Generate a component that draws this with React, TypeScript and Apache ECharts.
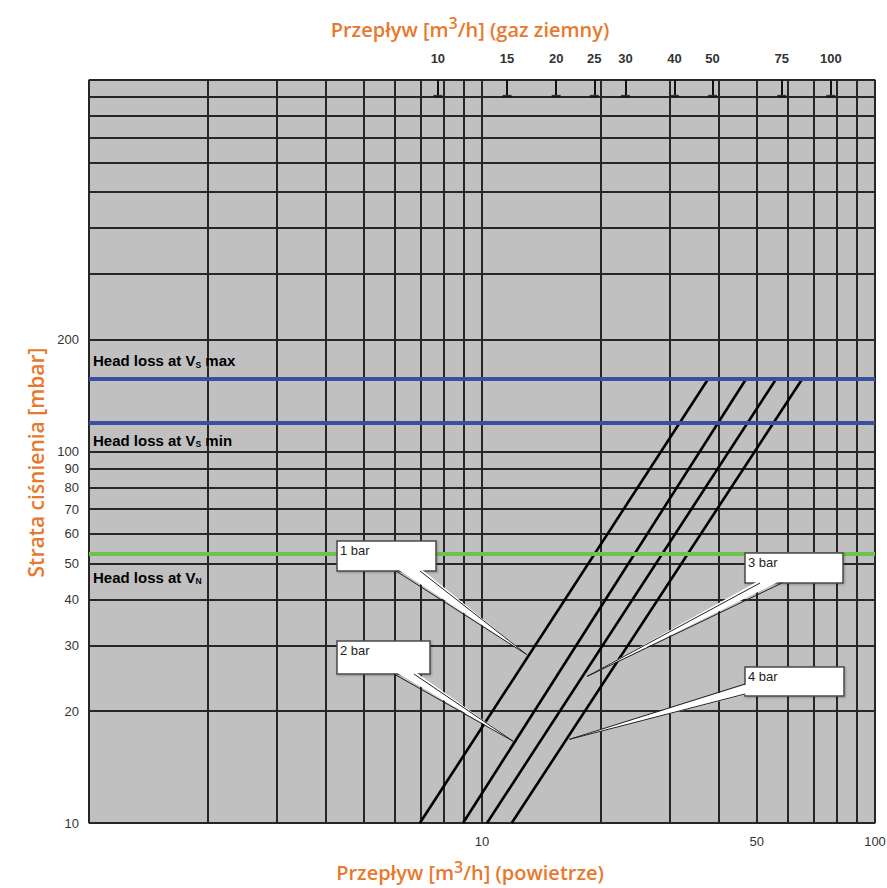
import { useEffect, useRef } from 'react';
import * as echarts from 'echarts';

// Axis values
const xGridValues = [1, 2, 3, 4, 5, 6, 7, 8, 9, 10, 20, 30, 40, 50, 60, 70, 80, 90, 100];
const xLabelValues = [10, 50, 100];
const yGridValues = [10, 20, 30, 40, 50, 60, 70, 80, 90, 100, 200, 300, 400, 500, 600, 700, 800, 900, 1000];
const yLabelValues = [10, 20, 30, 40, 50, 60, 70, 80, 90, 100, 200];
const gasTickValues = [10, 15, 20, 25, 30, 40, 50, 75, 100];
const GAS_FACTOR = 1.295; // gas flow / air flow

// Series (air flow m3/h, pressure loss mbar)
const line1bar = [[6.95, 10], [37.8, 158]];
const line2bar = [[8.95, 10], [47.2, 158]];
const line3bar = [[10.3, 10], [56.3, 158]];
const line4bar = [[11.9, 10], [65.6, 158]];
const headLossVsMax = 157;
const headLossVsMin = 119.7;
const headLossVN = 53.2;

// Callout anchor points on the curves
const calloutTips = {
  '1 bar': [13.0, 28.4],
  '2 bar': [12.0, 16.6],
  '3 bar': [18.5, 24.8],
  '4 bar': [16.7, 16.8],
};

const ORANGE = '#e8792c';
const TXT = 'Liberation Sans, Arial, sans-serif';
const TITLE_FONT = 'Open Sans, sans-serif';

function titleRich(supPad: number) {
  return {
    a: { fontSize: 20, color: ORANGE, fontFamily: TITLE_FONT, fontWeight: 600, lineHeight: 22 },
    s: { fontSize: 16, color: ORANGE, fontFamily: TITLE_FONT, fontWeight: 600, padding: [0, 0, supPad, 0] },
  };
}

export default function App() {
  const ref = useRef<HTMLDivElement>(null);
  useEffect(() => {
    const chart = echarts.init(ref.current!, undefined, { renderer: 'svg' });
    const lineSeries = (name: string, data: number[][]) => ({
      name,
      type: 'line',
      xAxisIndex: 0,
      yAxisIndex: 0,
      data,
      symbol: 'none',
      silent: true,
      lineStyle: { color: '#000', width: 2.6 },
      z: 3,
    });
    const option: any = {
      animation: false,
      backgroundColor: '#fff',
      grid: {
        left: 89,
        right: 12,
        top: 80,
        bottom: 65,
        outerBoundsMode: 'none',
        containLabel: false,
        show: true,
        backgroundColor: '#c0c0c0',
        borderColor: '#8c8c8c',
        borderWidth: 1.5,
      },
      xAxis: [
        {
          type: 'log',
          position: 'bottom',
          min: 1,
          max: 100,
          axisLine: { show: false },
          axisTick: { show: false, customValues: xGridValues },
          axisLabel: {
            customValues: xLabelValues,
            margin: 12,
            fontSize: 13,
            color: '#333',
            fontFamily: TXT,
          },
          splitLine: { show: true, lineStyle: { color: '#262626', width: 2 } },
          name: '{a|Przepływ [m}{s|3}{a|/h] (powietrze)}',
          nameLocation: 'middle',
          nameGap: 36,
          nameTextStyle: { rich: titleRich(11), padding: [0, 24, 0, 0] },
        },
        {
          type: 'log',
          position: 'top',
          min: GAS_FACTOR,
          max: 100 * GAS_FACTOR,
          axisLine: { show: false },
          axisTick: {
            show: true,
            inside: true,
            length: 15,
            customValues: gasTickValues,
            lineStyle: { color: '#111', width: 2 },
          },
          axisLabel: {
            customValues: gasTickValues,
            margin: 15,
            fontSize: 13,
            fontWeight: 'bold',
            color: '#333',
            fontFamily: TXT,
          },
          splitLine: { show: false },
          name: '{a|Przepływ [m}{s|3}{a|/h] (gaz ziemny)}',
          nameLocation: 'middle',
          nameGap: 37,
          nameTextStyle: { rich: titleRich(12), padding: [0, 24, 0, 0] },
        },
      ],
      yAxis: {
        type: 'log',
        min: 10,
        max: 1000,
        axisLine: { show: false },
        axisTick: { show: false, customValues: yGridValues },
        axisLabel: {
          customValues: yLabelValues,
          margin: 10,
          fontSize: 13,
          color: '#333',
          fontFamily: TXT,
        },
        splitLine: { show: true, lineStyle: { color: '#262626', width: 2 } },
        name: 'Strata ciśnienia [mbar]',
        nameLocation: 'middle',
        nameRotate: 90,
        nameGap: 42,
        nameTextStyle: {
          fontSize: 21,
          color: ORANGE,
          fontFamily: TITLE_FONT,
          fontWeight: 600,
          padding: [0, 22, 0, 0],
        },
      },
      series: [
        {
          ...lineSeries('1 bar', line1bar),
          markLine: {
            silent: true,
            symbol: ['none', 'none'],
            label: { show: false },
            lineStyle: { type: 'solid', width: 4 },
            data: [
              { yAxis: headLossVsMax, lineStyle: { color: '#3a4fa2', width: 4, type: 'solid' } },
              { yAxis: headLossVsMin, lineStyle: { color: '#3a4fa2', width: 4, type: 'solid' } },
              { yAxis: headLossVN, lineStyle: { color: '#6cc24a', width: 4, type: 'solid' } },
            ],
          },
        },
        lineSeries('2 bar', line2bar),
        lineSeries('3 bar', line3bar),
        lineSeries('4 bar', line4bar),
        {
          type: 'scatter',
          xAxisIndex: 1,
          yAxisIndex: 0,
          silent: true,
          symbol: 'rect',
          symbolSize: [9, 2.5],
          itemStyle: { color: '#111' },
          data: gasTickValues.map((v) => [v, 905]),
          z: 4,
        },
      ],
    };
    chart.setOption(option);

    const px = (p: number[]) => chart.convertToPixel({ seriesIndex: 0 }, p) as number[];
    const leftX = 93;
    const yMax = px([10, headLossVsMax])[1];
    const yMin = px([10, headLossVsMin])[1];
    const yN = px([10, headLossVN])[1];
    const hlRich = {
      a: { fontSize: 15, fontWeight: 'bold', fontFamily: TXT, color: '#1e1e1e' },
      s: { fontSize: 8.5, fontWeight: 'bold', fontFamily: TXT, color: '#1e1e1e', padding: [8, 0, 0, 0] },
    };
    const hlText = (text: string, y: number) => ({
      type: 'text',
      x: leftX,
      y,
      z: 10,
      style: { text, rich: hlRich, verticalAlign: 'middle', align: 'left' },
    });

    const boxes: any[] = [
      { label: '1 bar', x: 337, y: 541, w: 99, h: 30, base: [[396, 571], [420, 571]] },
      { label: '2 bar', x: 337, y: 641, w: 93, h: 33, base: [[394, 674], [414, 674]] },
      { label: '3 bar', x: 745, y: 553, w: 98, h: 30, base: [[760, 583], [782, 583]] },
      { label: '4 bar', x: 745, y: 667, w: 99, h: 29, base: [[745, 684], [745, 694]] },
    ];
    const callouts: any[] = [];
    boxes.forEach((b) => {
      const tip = px((calloutTips as any)[b.label]);
      const [b1, b2] = b.base;
      const inward = b.base[0][0] === b.base[1][0] ? [3, 0] : [0, -3];
      callouts.push({
        type: 'rect',
        z: 20,
        shape: { x: b.x, y: b.y, width: b.w, height: b.h },
        style: { fill: '#fff', stroke: '#4a4a4a', lineWidth: 1.5, shadowColor: 'rgba(0,0,0,0.25)', shadowBlur: 2, shadowOffsetX: 1, shadowOffsetY: 1 },
      });
      callouts.push({
        type: 'polygon',
        z: 21,
        shape: {
          points: [
            [b1[0] + inward[0], b1[1] + inward[1]],
            [b2[0] + inward[0], b2[1] + inward[1]],
            tip,
          ],
        },
        style: { fill: '#fff', stroke: null },
      });
      callouts.push({
        type: 'polyline',
        z: 22,
        shape: { points: [b1, tip, b2] },
        style: { stroke: '#222', lineWidth: 1, fill: null },
      });
      callouts.push({
        type: 'text',
        z: 23,
        x: b.x + 3,
        y: b.y + 3,
        style: { text: b.label, fontSize: 13, fontFamily: TXT, fill: '#222' },
      });
    });

    chart.setOption({
      graphic: [
        hlText('{a|Head loss at V}{s|S}{a| max}', yMax - 18),
        hlText('{a|Head loss at V}{s|S}{a| min}', yMin + 18),
        hlText('{a|Head loss at V}{s|N}', yN + 24),
        ...callouts,
      ],
    });

    return () => chart.dispose();
  }, []);
  return (
    <div
      ref={ref}
      style={{ position: 'fixed', left: 0, top: 0, width: 887, height: 888 }}
    />
  );
}
